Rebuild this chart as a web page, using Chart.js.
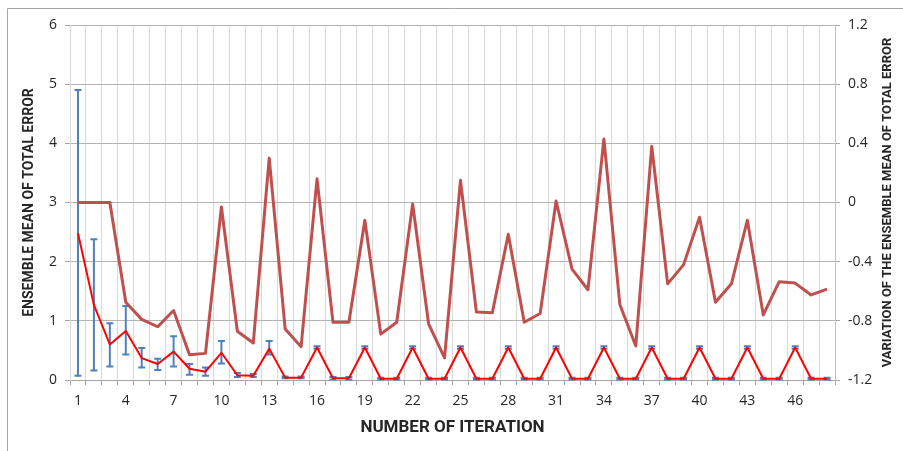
<!DOCTYPE html>
<html>
<head>
<meta charset="utf-8">
<script src="https://cdn.jsdelivr.net/npm/chart.js@4.4.1/dist/chart.umd.min.js"></script>
<style>
  html, body { margin: 0; padding: 0; background: #fff; }
  #wrap { width: 903px; height: 451px; position: relative; }
</style>
</head>
<body>
<div id="wrap"><canvas id="chart" width="903" height="451"></canvas></div>
<script>
// Iteration numbers (x categories)
const iterations = [
  1, 2, 3, 4, 5, 6, 7, 8, 9, 10, 11, 12, 13, 14, 15, 16,
  17, 18, 19, 20, 21, 22, 23, 24, 25, 26, 27, 28, 29, 30, 31, 32,
  33, 34, 35, 36, 37, 38, 39, 40, 41, 42, 43, 44, 45, 46, 47, 48
];

// Ensemble mean of total error (left axis)
const ensembleMean = [
  2.48, 1.27, 0.60, 0.83, 0.37, 0.27, 0.48, 0.19, 0.14, 0.46, 0.08, 0.07, 0.53, 0.04, 0.04, 0.55,
  0.03, 0.03, 0.55, 0.02, 0.02, 0.55, 0.02, 0.02, 0.55, 0.02, 0.02, 0.55, 0.02, 0.02, 0.55, 0.02,
  0.02, 0.55, 0.02, 0.02, 0.55, 0.02, 0.02, 0.55, 0.02, 0.02, 0.55, 0.02, 0.02, 0.55, 0.02, 0.02
];

// Error bar bounds around the ensemble mean
const errorLow = [
  0.07, 0.16, 0.23, 0.43, 0.21, 0.17, 0.23, 0.09, 0.07, 0.28, 0.05, 0.05, 0.43, 0.03, 0.03, 0.53,
  0.01, 0.01, 0.53, 0.01, 0.01, 0.53, 0.01, 0.01, 0.53, 0.01, 0.01, 0.53, 0.01, 0.01, 0.53, 0.01,
  0.01, 0.53, 0.01, 0.01, 0.53, 0.01, 0.01, 0.53, 0.01, 0.01, 0.53, 0.01, 0.01, 0.53, 0.01, 0.01
];
const errorHigh = [
  4.90, 2.38, 0.96, 1.25, 0.54, 0.36, 0.74, 0.27, 0.21, 0.66, 0.12, 0.10, 0.66, 0.06, 0.06, 0.57,
  0.05, 0.05, 0.57, 0.04, 0.04, 0.57, 0.04, 0.04, 0.57, 0.04, 0.04, 0.57, 0.04, 0.04, 0.57, 0.04,
  0.04, 0.57, 0.04, 0.04, 0.57, 0.04, 0.04, 0.57, 0.04, 0.04, 0.57, 0.04, 0.04, 0.57, 0.04, 0.04
];

// Variation of the ensemble mean (right axis)
const variation = [
  0.00, 0.00, 0.00, -0.675, -0.79, -0.84, -0.73, -1.03, -1.02, -0.03, -0.87, -0.95, 0.30, -0.855, -0.975, 0.16,
  -0.81, -0.81, -0.12, -0.89, -0.81, -0.01, -0.82, -1.05, 0.15, -0.74, -0.745, -0.215, -0.81, -0.75, 0.01, -0.45,
  -0.59, 0.43, -0.69, -0.97, 0.38, -0.55, -0.42, -0.10, -0.675, -0.55, -0.12, -0.76, -0.535, -0.545, -0.625, -0.585
];

const tickFont = { family: 'Open Sans', size: 14 };
const textColor = '#262626';

// Error bars drawn through the left scale, beneath the lines
const errorBarPlugin = {
  id: 'errorBars',
  beforeDatasetsDraw(chart) {
    const ctx = chart.ctx;
    const xs = chart.scales.x;
    const ys = chart.scales.y;
    ctx.save();
    ctx.strokeStyle = '#4f81bd';
    ctx.lineWidth = 2;
    for (let i = 0; i < iterations.length; i++) {
      const x = xs.getPixelForValue(i);
      const yl = ys.getPixelForValue(errorLow[i]);
      const yh = ys.getPixelForValue(errorHigh[i]);
      ctx.beginPath();
      ctx.moveTo(x, yl); ctx.lineTo(x, yh);
      ctx.moveTo(x - 3.5, yl); ctx.lineTo(x + 3.5, yl);
      ctx.moveTo(x - 3.5, yh); ctx.lineTo(x + 3.5, yh);
      ctx.stroke();
    }
    ctx.restore();
  }
};

// Outer frame and right-hand title (reads bottom to top)
const framePlugin = {
  id: 'frame',
  afterDraw(chart) {
    const ctx = chart.ctx;
    const area = chart.chartArea;
    ctx.save();
    ctx.strokeStyle = '#a6a6a6';
    ctx.lineWidth = 1;
    ctx.beginPath();
    ctx.moveTo(7.5, 451); ctx.lineTo(7.5, 8.5); ctx.lineTo(903, 8.5);
    ctx.stroke();

    ctx.translate(888, (area.top + area.bottom) / 2);
    ctx.rotate(-Math.PI / 2);
    ctx.fillStyle = textColor;
    ctx.font = 'bold 13px Roboto';
    ctx.textAlign = 'center';
    ctx.textBaseline = 'middle';
    ctx.fillText('VARIATION OF THE ENSEMBLE MEAN OF TOTAL ERROR', 0, 0);
    ctx.restore();
  }
};

new Chart(document.getElementById('chart'), {
  type: 'line',
  data: {
    labels: iterations,
    datasets: [
      {
        label: 'Variation',
        data: variation,
        yAxisID: 'y1',
        borderColor: '#c0504d',
        borderWidth: 3,
        borderJoinStyle: 'round',
        pointRadius: 0,
        tension: 0,
        fill: false
      },
      {
        label: 'Ensemble mean',
        data: ensembleMean,
        yAxisID: 'y',
        borderColor: '#ff0000',
        borderWidth: 2,
        borderJoinStyle: 'round',
        pointRadius: 0,
        tension: 0,
        fill: false
      }
    ]
  },
  options: {
    responsive: false,
    animation: false,
    layout: { padding: { left: 8, right: 0, top: 25, bottom: 0 } },
    plugins: {
      legend: { display: false },
      tooltip: { enabled: false }
    },
    scales: {
      x: {
        offset: true,
        grid: { offset: true, color: '#d9d9d9', tickColor: '#a6a6a6', tickLength: 5 },
        border: { color: '#a6a6a6' },
        ticks: {
          autoSkip: false,
          maxRotation: 0,
          padding: 8,
          color: textColor,
          font: tickFont,
          callback: (val, idx) => (idx % 3 === 0 ? String(iterations[idx]) : '')
        },
        title: {
          display: true,
          text: 'NUMBER OF ITERATION',
          color: textColor,
          font: { family: 'Roboto', size: 17, weight: 'bold' },
          padding: { top: 0, bottom: 13 }
        },
        afterFit: (scale) => { scale.height = 71; }
      },
      y: {
        position: 'left',
        min: 0,
        max: 6,
        grid: { color: '#b3b3b3', tickColor: '#a6a6a6', tickLength: 5 },
        border: { color: '#d9d9d9' },
        ticks: { stepSize: 1, padding: 8, color: textColor, font: tickFont },
        title: {
          display: true,
          text: 'ENSEMBLE MEAN OF TOTAL ERROR',
          color: textColor,
          font: { family: 'Roboto', size: 14, weight: 'bold' },
          padding: { top: 13, bottom: 0 }
        },
        afterFit: (scale) => { scale.width = 62; }
      },
      y1: {
        position: 'right',
        min: -1.2,
        max: 1.2,
        grid: { drawOnChartArea: false, tickColor: '#a6a6a6', tickLength: 5 },
        border: { color: '#bfbfbf' },
        ticks: {
          stepSize: 0.4,
          padding: 8,
          color: textColor,
          font: tickFont,
          callback: (v) => (Math.abs(v) < 1e-9 ? '0' : Number(v).toFixed(1))
        },
        afterFit: (scale) => { scale.width = 68; }
      }
    }
  },
  plugins: [errorBarPlugin, framePlugin]
});
</script>
</body>
</html>
